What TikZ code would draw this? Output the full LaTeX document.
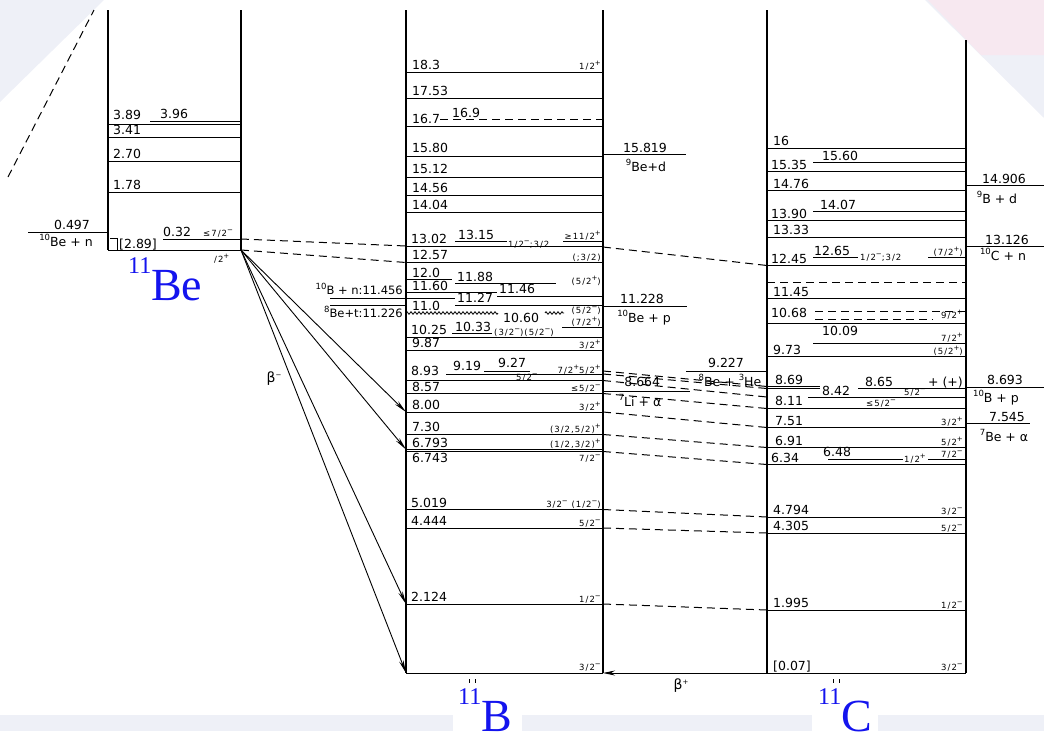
\documentclass[tikz,border=0pt]{standalone}
\usepackage{fontspec}
\setmainfont{DejaVu Sans}
\newfontfamily\lett{DejaVu Sans}
\newfontfamily\lettsp[LetterSpace=12]{DejaVu Sans}
\newfontfamily\tms{Liberation Serif}
\usetikzlibrary{arrows.meta,decorations.pathmorphing}
\definecolor{bgc}{HTML}{EEF0F7}
\definecolor{pinkbg}{HTML}{F7E8F0}
\definecolor{labblue}{HTML}{1414EE}
\newcommand\valfont{\lett\fontsize{12.5}{13}\selectfont}
\newcommand\thrfont{\lett\fontsize{11.5}{12}\selectfont}
\newcommand\spfont{\lettsp\fontsize{8.5}{9}\selectfont}
\newcommand\us[1]{\raisebox{0.42em}{\lett\fontsize{8.5}{9}\selectfont #1}}
\newcommand\sps[1]{\raisebox{0.42em}{\lett\fontsize{7}{7}\selectfont #1}}
\newcommand\spp{\sps{+}}
\newcommand\smm{\sps{−}}
\newcommand\nuc[2]{{\tms\fontsize{24}{24}\selectfont\raisebox{27pt}{#1}}{\tms\fontsize{46}{46}\selectfont #2}}
\tikzset{
  col/.style={line width=1.4pt},
  lev/.style={line width=1pt},
  dsh/.style={line width=1pt, dash pattern=on 8pt off 5pt},
  val/.style={font=\valfont, inner sep=0pt, anchor=base west},
  thr/.style={font=\valfont, inner sep=0pt, anchor=base},
  thrs/.style={font=\thrfont, inner sep=0pt, anchor=base east},
  sp/.style={font=\spfont, inner sep=0pt, anchor=base east},
  spw/.style={font=\spfont, inner sep=0pt, anchor=base west},
  big/.style={text=labblue, inner sep=0pt, anchor=base west},
  arr/.style={line width=0.9pt, -{Stealth[length=13pt,width=4.5pt]}},
  wav/.style={line width=0.8pt, decorate, decoration={zigzag, segment length=4pt, amplitude=1.3pt}}
}
\begin{document}
\begin{tikzpicture}[x=1pt,y=-1pt]
\useasboundingbox (0,0) rectangle (1044,731);
\clip (0,0) rectangle (1044,731);
% background
\fill[bgc] (0,0) -- (104,0) -- (0,102) -- cycle;
\fill[bgc] (925,0) -- (1044,0) -- (1044,118) -- cycle;
\fill[pinkbg] (928,0) -- (1044,0) -- (1044,55) -- (981,55) -- cycle;
\fill[bgc] (0,715) rectangle (453,731);
\fill[bgc] (522,715) rectangle (812,731);
\fill[bgc] (878,715) rectangle (1044,731);

% ---------- 11Be ----------
\draw[col] (108,10) -- (108,250);
\draw[col] (241,10) -- (241,250);
\draw[dsh] (8,177) -- (94,10);
\draw[lev] (150,121) -- (241,121);
\draw[lev] (108,124) -- (241,124);
\draw[lev] (108,137) -- (241,137);
\draw[lev] (108,161) -- (241,161);
\draw[lev] (108,192) -- (241,192);
\draw[lev] (163,239) -- (241,239);
\draw[lev] (108,250) -- (241,250);
\draw[lev] (110,238) -- (117,238) -- (117,250);
\draw[lev] (28,232) -- (108,232);
\node[val] (be389) at (113,119) {3.89};
\node[val] (be396) at (160,118) {3.96};
\node[val] (be341) at (113,134.5) {3.41};
\node[val] (be270) at (113,158.5) {2.70};
\node[val] (be178) at (113,189.5) {1.78};
\node[val] (be032) at (163,236.5) {0.32};
\node[spw] (be032j) at (203,236) {≤7/2\smm};
\node[val] (be289) at (119,248) {[2.89]};
\node[spw] (bejp) at (214,262) {/2\spp};
\node[thr] (bethv) at (72,229) {0.497};
\node[thr] (bethn) at (66,246) {\us{10}Be + n};
\node[big] (lbBe) at (128,300) {\nuc{11}{Be}};

% ---------- 11B ----------
\draw[col] (406,10) -- (406,673);
\draw[col] (603,10) -- (603,673);
\foreach \yy in {72.5,98,126,156,177,195.5,212.5,246,262.5,337,350.5,380.5,393.5,412,434.5,449.5,451.5,509.5,528,604,673}
  \draw[lev] (406,\yy) -- (603,\yy);
\draw[dsh] (440,119.5) -- (603,119.5);
\draw[lev] (455,241.5) -- (507,241.5);
\draw[lev] (563,241.5) -- (603,241.5);
\draw[lev] (406,279.5) -- (452,279.5);
\draw[lev] (455,283) -- (556,283);
\draw[lev] (406,292) -- (497,292);
\draw[lev] (497,296) -- (603,296);
\draw[lev] (455,305) -- (603,305);
\draw[wav] (406,313) -- (498,313);
\draw[wav] (545,313) -- (564,313);
\draw[lev] (562,327) -- (603,327);
\draw[lev] (452,333.5) -- (492,333.5);
\draw[lev] (484,371) -- (530,371);
\draw[lev] (446,374) -- (603,374);
% thresholds left of 11B
\draw[lev] (330,298) -- (455,298);
\draw[lev] (330,305.5) -- (406,305.5);
\node[thrs] (tBn) at (403,294.5) {\us{10}B + n:11.456};
\node[thrs] (tBet) at (403,317.5) {\us{8}Be+t:11.226};
% values
\node[val] (b183) at (412,69.5) {18.3};
\node[val] (b1753) at (412,95) {17.53};
\node[val] (b167) at (412,123.5) {16.7};
\node[val] (b169) at (452,117) {16.9};
\node[val] (b1580) at (412,152.5) {15.80};
\node[val] (b1512) at (412,173.5) {15.12};
\node[val] (b1456) at (412,192) {14.56};
\node[val] (b1404) at (412,209) {14.04};
\node[val] (b1302) at (411,243.5) {13.02};
\node[val] (b1315) at (458,239) {13.15};
\node[val] (b1257) at (412,259.5) {12.57};
\node[val] (b120) at (412,277.5) {12.0};
\node[val] (b1188) at (457,281) {11.88};
\node[val] (b1160) at (412,290) {11.60};
\node[val] (b1146) at (499,293.5) {11.46};
\node[val] (b1127) at (457,302.5) {11.27};
\node[val] (b110) at (412,310.5) {11.0};
\node[val] (b1060) at (503,322.5) {10.60};
\node[val] (b1025) at (411,334.5) {10.25};
\node[val] (b1033) at (455,331.5) {10.33};
\node[val] (b987) at (412,347.5) {9.87};
\node[val] (b919) at (453,370) {9.19};
\node[val] (b927) at (498,367.5) {9.27};
\node[val] (b893) at (411,375.5) {8.93};
\node[val] (b857) at (412,391) {8.57};
\node[val] (b800) at (412,409.5) {8.00};
\node[val] (b730) at (412,431.5) {7.30};
\node[val] (b6793) at (412,447) {6.793};
\node[val] (b6743) at (412,462) {6.743};
\node[val] (b5019) at (411,507) {5.019};
\node[val] (b4444) at (411,525.5) {4.444};
\node[val] (b2124) at (411,601.5) {2.124};
% spins
\node[sp] (bj183) at (601,69) {1/2\spp};
\node[sp] (bj1315) at (601,239.5) {≥11/2\spp};
\node[spw] (bj1315b) at (508,247) {1/2\smm;3/2};
\node[sp] (bj1257) at (601,260) {(;3/2)};
\node[sp] (bj1188) at (601,284.5) {(5/2\spp)};
\node[sp] (bj110a) at (601,313.5) {(5/2\smm)};
\node[sp] (bj110b) at (601,325) {(7/2\spp)};
\node[spw] (bj1033) at (494,335) {(3/2\smm)(5/2\smm)};
\node[sp] (bj987) at (601,348) {3/2\spp};
\node[sp] (bj919) at (601,373) {7/2\spp5/2\spp};
\node[spw] (bj927) at (516,380.5) {5/2\smm};
\node[sp] (bj857) at (601,391.5) {≤5/2\smm};
\node[sp] (bj800) at (601,410) {3/2\spp};
\node[sp] (bj730) at (601,432) {(3/2,5/2)\spp};
\node[sp] (bj6793) at (601,447.5) {(1/2,3/2)\spp};
\node[sp] (bj6743) at (601,461.5) {7/2\smm};
\node[sp] (bj5019) at (601,507) {3/2\smm{} (1/2\smm)};
\node[sp] (bj4444) at (601,526) {5/2\smm};
\node[sp] (bj2124) at (601,602) {1/2\smm};
\node[sp] (bj0) at (601,670) {3/2\smm};
\node[big] (lbB) at (458,731) {\nuc{11}{B}};
\draw[line width=0.8pt] (469,679) -- (469,683) (475,679) -- (475,683);

% thresholds between 11B and 11C
\draw[lev] (603,154.5) -- (686,154.5);
\node[thr] (t15819) at (645,152.5) {15.819};
\node[thr] (t9Bed) at (646,171) {\us{9}Be+d};
\draw[lev] (603,306.5) -- (687,306.5);
\node[thr] (t11228) at (642,303) {11.228};
\node[thr] (t10Bep) at (644,322) {\us{10}Be + p};
\draw[lev] (603,391) -- (690,391);
\node[thr] (t8664) at (640,386.5) {-8.664};
\node[thr] (t7Lia) at (640,406) {\us{7}Li + α};
\draw[lev] (686,371) -- (767,371);
\node[thr] (t9227) at (726,367) {9.227};
\node[thr] (t8Be3He) at (730,386) {\us{8}Be + \us{3}He};

% ---------- 11C ----------
\draw[col] (767,10) -- (767,673);
\draw[col] (966,40) -- (966,673);
\foreach \yy in {148.5,171,190.5,220,237,265.5,298.5,323.5,356,408.5,427.5,447.5,464.5,517,533,610,673}
  \draw[lev] (767,\yy) -- (966,\yy);
\draw[lev] (813,162.5) -- (966,162.5);
\draw[lev] (813,211) -- (966,211);
\draw[lev] (813,257) -- (858,257);
\draw[lev] (928,257) -- (966,257);
\draw[dsh] (767,282.5) -- (966,282.5);
\draw[dsh] (815,311) -- (966,311);
\draw[dsh] (815,319) -- (933,319);
\draw[lev] (813,343.5) -- (966,343.5);
\draw[lev] (767,386.5) -- (820,386.5);
\draw[lev] (767,388.5) -- (820,388.5);
\draw[lev] (858,388.5) -- (966,388.5);
\draw[lev] (808,397) -- (966,397);
\draw[lev] (828,459.5) -- (903,459.5);
\draw[lev] (928,459.5) -- (966,459.5);
\node[val] (c16) at (773,145.5) {16};
\node[val] (c1560) at (822,160.5) {15.60};
\node[val] (c1535) at (771,169) {15.35};
\node[val] (c1476) at (773,188) {14.76};
\node[val] (c1407) at (820,209) {14.07};
\node[val] (c1390) at (771,218) {13.90};
\node[val] (c1333) at (773,234.5) {13.33};
\node[val] (c1265) at (814,255) {12.65};
\node[val] (c1245) at (771,263.5) {12.45};
\node[val] (c1145) at (773,296) {11.45};
\node[val] (c1068) at (771,317.5) {10.68};
\node[val] (c1009) at (822,335) {10.09};
\node[val] (c973) at (773,354) {9.73};
\node[val] (c869) at (775,384.5) {8.69};
\node[val] (c842) at (822,395) {8.42};
\node[val] (c865) at (865,386) {8.65};
\node[val] (c811) at (775,405.5) {8.11};
\node[val] (c751) at (775,425) {7.51};
\node[val] (c691) at (775,445) {6.91};
\node[val] (c648) at (823,456.5) {6.48};
\node[val] (c634) at (771,462.5) {6.34};
\node[val] (c4794) at (773,514) {4.794};
\node[val] (c4305) at (773,530.5) {4.305};
\node[val] (c1995) at (773,607.5) {1.995};
\node[val] (c0) at (773,670) {[0.07]};
\node[spw] (cj1265a) at (860,260) {1/2\smm;3/2};
\node[sp] (cj1265b) at (963,255) {(7/2\spp)};
\node[sp] (cj1068) at (963,318.5) {9/2\spp};
\node[sp] (cj1009) at (963,341) {7/2\spp};
\node[sp] (cj973) at (963,354) {(5/2\spp)};
\node[sp, font=\valfont] (cj865) at (963,386) {+ (+)};
\node[spw] (cj865b) at (904,395.5) {5/2\smm};
\node[spw] (cj842) at (866,406) {≤5/2\smm};
\node[sp] (cj751) at (963,425) {3/2\spp};
\node[sp] (cj691) at (963,445) {5/2\spp};
\node[spw] (cj634) at (904,462.5) {1/2\spp};
\node[sp] (cj648) at (963,457) {7/2\smm};
\node[sp] (cj4794) at (963,514.5) {3/2\smm};
\node[sp] (cj4305) at (963,531) {5/2\smm};
\node[sp] (cj1995) at (963,608) {1/2\smm};
\node[sp] (cj0) at (963,670) {3/2\smm};
\node[big] (lbC) at (818,731) {\nuc{11}{C}};
\draw[line width=0.8pt] (833,679) -- (833,683) (839,679) -- (839,683);

% thresholds right of 11C
\draw[lev] (966,185.5) -- (1044,185.5);
\node[thr] (t14906) at (1004,183) {14.906};
\node[thr] (t9Bd) at (997,203) {\us{9}B + d};
\draw[lev] (966,246) -- (1044,246);
\node[thr] (t13126) at (1007,244) {13.126};
\node[thr] (t10Cn) at (1003,260) {\us{10}C + n};
\draw[lev] (966,387.5) -- (1044,387.5);
\node[thr] (t8693) at (1005,384.5) {8.693};
\node[thr] (t10Bp) at (996,402) {\us{10}B + p};
\draw[lev] (966,423.5) -- (1030,423.5);
\node[thr] (t7545) at (1007,421.5) {7.545};
\node[thr] (t7Bea) at (1004,441) {\us{7}Be + α};

% ---------- connectors ----------
\coordinate (BeG) at (241,250);
\coordinate (Be032) at (241,239);
\coordinate (BL1302) at (406,246);
\coordinate (BL1257) at (406,262.5);
\coordinate (BL800) at (406,412);
\coordinate (BL6793) at (406,449.5);
\coordinate (BL2124) at (406,604);
\coordinate (BL0) at (406,673);
\coordinate (BR0) at (603,673);
\coordinate (CL0) at (767,673);
\draw[dsh] (Be032) -- (BL1302);
\draw[dsh] (BeG) -- (BL1257);
\draw[arr] (BeG) -- (BL800);
\draw[arr] (BeG) -- (BL6793);
\draw[arr] (BeG) -- (BL2124);
\draw[arr] (BeG) -- (BL0);
\node[font=\lett\fontsize{14}{14}\selectfont, inner sep=0pt] (betam) at (274,379) {β\sps{−}};
\draw[line width=1pt, -{Stealth[length=12pt,width=5pt]}] (CL0) -- (BR0);
\node[font=\lett\fontsize{14}{14}\selectfont, inner sep=0pt] (betap) at (681,686) {β\sps{+}};
\foreach \a/\b [count=\i] in {247/265.5, 371/386.5, 374/388.5, 380.5/397, 393.5/408.5, 412/427.5, 434.5/447.5, 451.5/464.5, 509.5/517, 528/533, 604/610} {
  \coordinate (mL\i) at (603,\a);
  \coordinate (mR\i) at (767,\b);
  \draw[dsh] (mL\i) -- (mR\i);
}
\end{tikzpicture}
\end{document}
